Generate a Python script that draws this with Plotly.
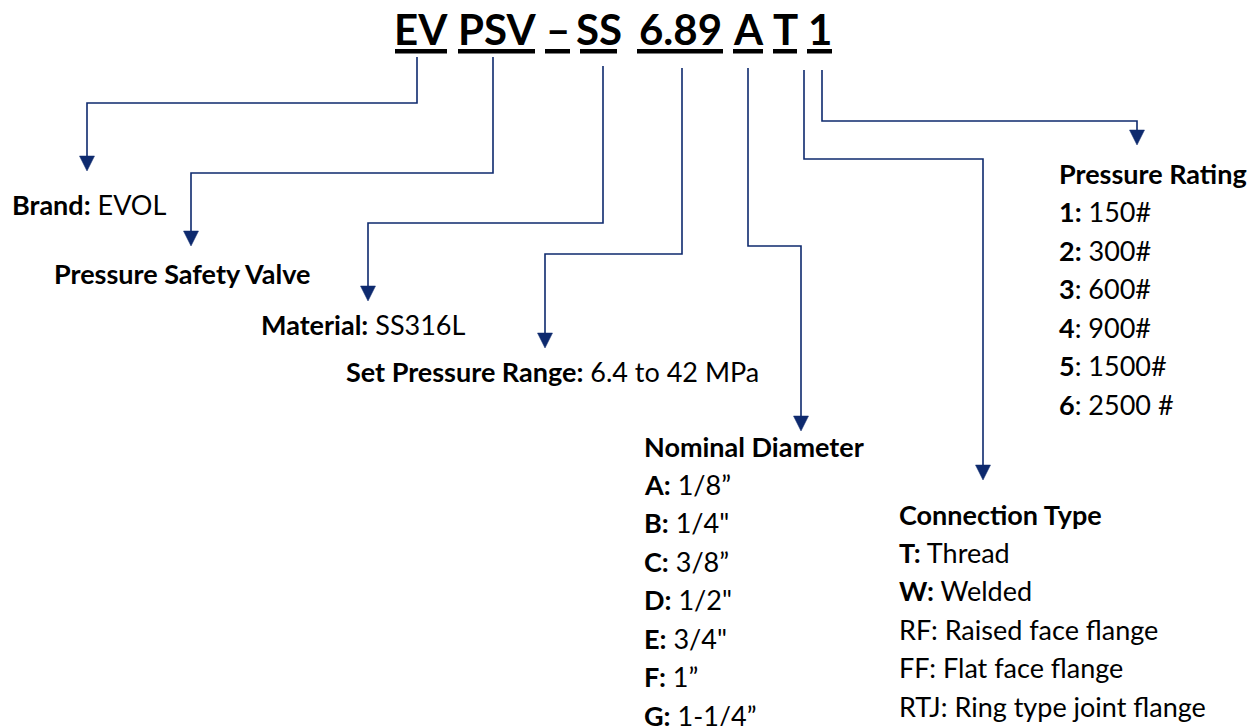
import plotly.graph_objects as go

# ---------------- data ----------------
code_segments = ["EV", "PSV", "–", "SS", "6.89", "A", "T", "1"]

brand_label, brand_value = "Brand:", "EVOL"
valve_label = "Pressure Safety Valve"
material_label, material_value = "Material:", "SS316L"
range_label, range_value = "Set Pressure Range:", "6.4 to 42 MPa"

diameter_title = "Nominal Diameter"
diameter_codes = ["A:", "B:", "C:", "D:", "E:", "F:", "G:"]
diameter_values = ["1/8”", "1/4\"", "3/8”", "1/2\"", "3/4\"", "1”", "1-1/4”"]

connection_title = "Connection Type"
connection_codes = ["T:", "W:", "RF:", "FF:", "RTJ:"]
connection_values = ["Thread", "Welded", "Raised face flange", "Flat face flange", "Ring type joint flange"]
connection_bold = [True, True, False, False, False]

rating_title = "Pressure Rating"
rating_codes = ["1", "2", "3", "4", "5", "6"]
rating_values = ["150#", "300#", "600#", "900#", "1500#", "2500 #"]
rating_colon_bold = [True, True, False, False, False, False]

# ---------------- layout constants (pixels) ----------------
W, H = 1259, 726
NAVY = "#0E2A6E"
FONT = "Lato"
BODY = 27
LINE_GAP = 38.5

seg_spans = [(395, 447), (458, 535), (545, 570), (580, 617), (637, 723), (733, 763), (773, 797), (807, 832)]

connectors = [
    [(417, 57), (417, 103), (87, 103), (87, 171)],
    [(493, 57), (493, 173), (191, 173), (191, 246)],
    [(603, 66), (603, 223), (368, 223), (368, 301)],
    [(682, 68), (682, 254), (545, 254), (545, 348)],
    [(748, 68), (748, 246), (801, 246), (801, 431)],
    [(804, 70), (804, 159), (983, 159), (983, 480)],
    [(822, 70), (822, 121), (1137, 121), (1137, 145)],
]

fig = go.Figure()
shapes = []
annotations = []

# title segments with thick underlines
for seg, (x0, x1) in zip(code_segments, seg_spans):
    annotations.append(dict(x=(x0 + x1) / 2, y=29, text=f"<b>{seg}</b>", showarrow=False,
                            xanchor="center", yanchor="middle",
                            font=dict(family=FONT, size=42, color="#000000")))
    shapes.append(dict(type="rect", x0=x0, x1=x1, y0=49, y1=53.5, fillcolor="#000000",
                       line=dict(width=0), layer="above"))

# connectors + arrowheads
AW, AH = 7.5, 15
for pts in connectors:
    *body, tip = pts
    tx, ty = tip
    path = "M " + " L ".join(f"{x},{y}" for x, y in body) + f" L {tx},{ty - AH + 1}"
    shapes.append(dict(type="path", path=path, line=dict(color=NAVY, width=1.6)))
    shapes.append(dict(type="path", path=f"M {tx - AW},{ty - AH} L {tx + AW},{ty - AH} L {tx},{ty} Z",
                       fillcolor=NAVY, line=dict(color=NAVY, width=0.5)))


def add_text(x, y, html):
    annotations.append(dict(x=x, y=y, text=html, showarrow=False, xanchor="left", yanchor="middle",
                            font=dict(family=FONT, size=BODY, color="#000000")))


add_text(10, 204.5, f"<b>{brand_label}</b> {brand_value}")
add_text(52, 273.5, f"<b>{valve_label}</b>")
add_text(259, 324, f"<b>{material_label}</b> {material_value}")
add_text(344, 371, f"<b>{range_label}</b> {range_value}")

# nominal diameter block
add_text(642, 446, f"<b>{diameter_title}</b>")
for i, (c, v) in enumerate(zip(diameter_codes, diameter_values)):
    add_text(642, 484 + i * LINE_GAP, f"<b>{c}</b> {v}")

# connection type block
add_text(897, 514, f"<b>{connection_title}</b>")
for i, (c, v, b) in enumerate(zip(connection_codes, connection_values, connection_bold)):
    add_text(897, 552 + i * LINE_GAP, (f"<b>{c}</b> {v}" if b else f"{c} {v}"))

# pressure rating block
add_text(1057, 173, f"<b>{rating_title}</b>")
for i, (c, v, b) in enumerate(zip(rating_codes, rating_values, rating_colon_bold)):
    add_text(1057, 211.5 + i * LINE_GAP, (f"<b>{c}:</b> {v}" if b else f"<b>{c}</b>: {v}"))

fig.update_layout(
    width=W, height=H,
    margin=dict(l=0, r=0, t=0, b=0),
    paper_bgcolor="#ffffff", plot_bgcolor="#ffffff",
    xaxis=dict(range=[0, W], visible=False, fixedrange=True),
    yaxis=dict(range=[H, 0], visible=False, fixedrange=True),
    shapes=shapes, annotations=annotations, showlegend=False,
)

fig.write_html("out.html", config={"displayModeBar": False},
               post_script="document.body.style.margin='0';document.body.style.overflow='hidden';")
